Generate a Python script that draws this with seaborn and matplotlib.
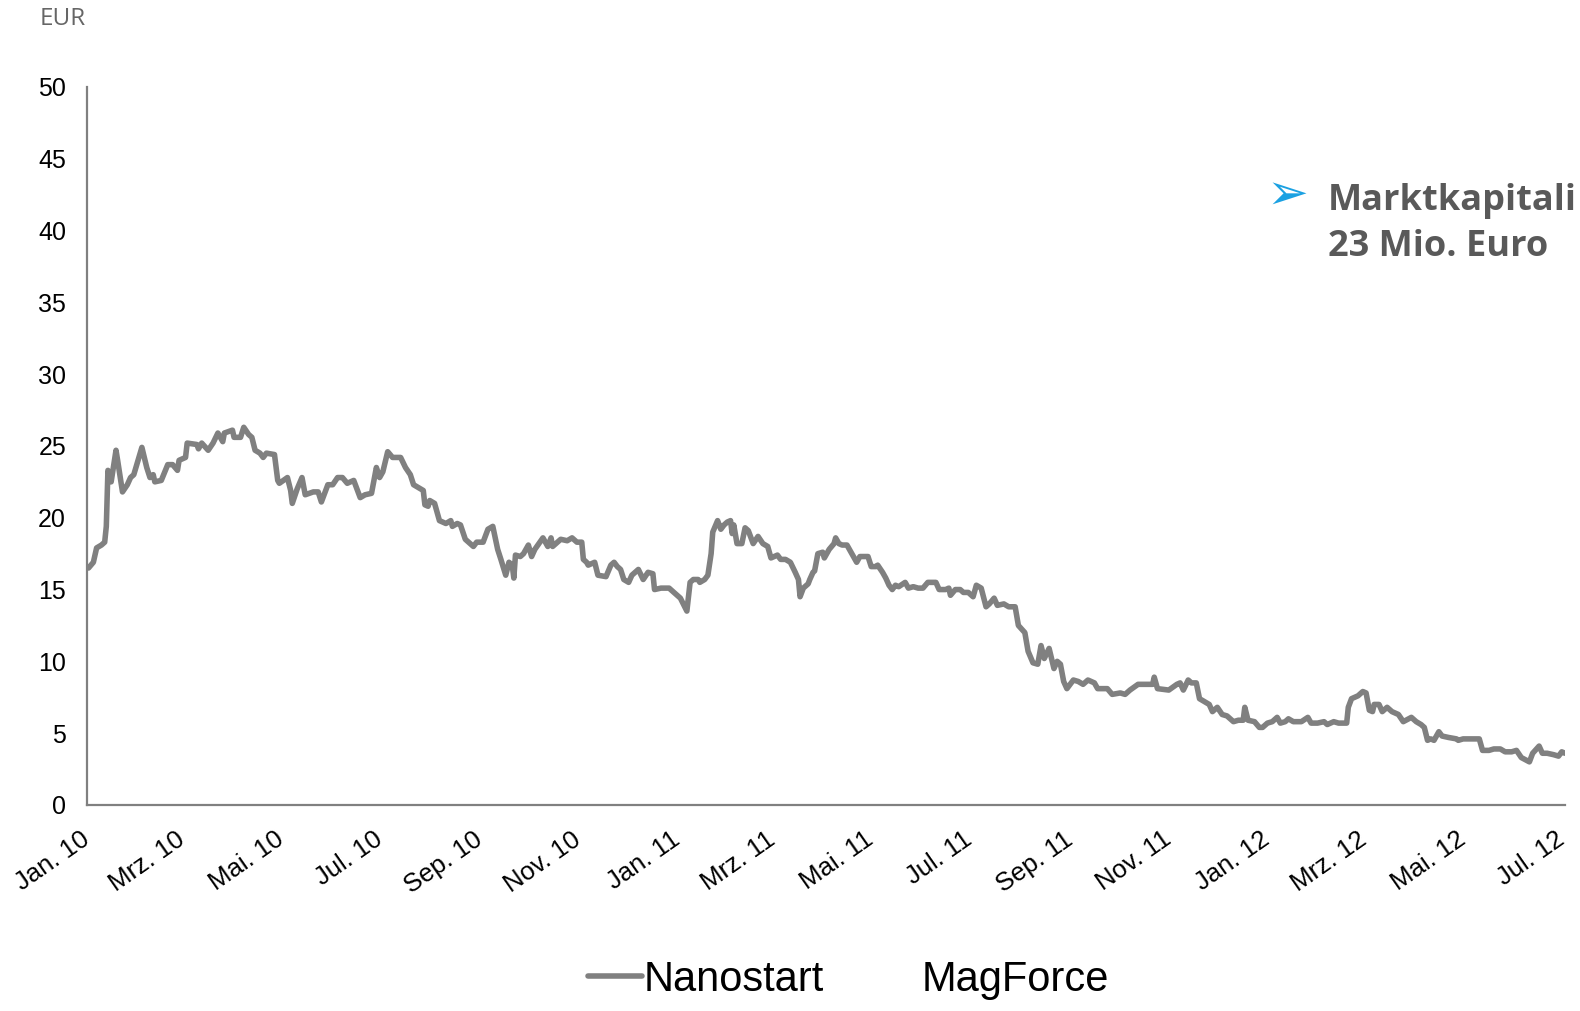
import pandas as pd
import numpy as np
import matplotlib
matplotlib.use("Agg")
import matplotlib.pyplot as plt
import seaborn as sns

# Nanostart share price (EUR)
# days since 1 Jan 2010 and closing price
nanostart_days = [
    1, 4, 6, 9, 11, 12, 13, 15, 18, 19, 22, 25, 27, 29, 34, 37, 39, 41, 42, 46,
    50, 53, 56, 57, 61, 62, 68, 69, 71, 75, 78, 81, 84, 85, 90, 91, 95, 97, 100, 102,
    104, 107, 109, 111, 116, 118, 119, 124, 126, 127, 130, 133, 135, 140, 143, 145, 149, 152, 155, 158,
    161, 165, 169, 172, 176, 179, 181, 183, 186, 189, 194, 197, 200, 202, 205, 208, 209, 211, 212, 215,
    218, 222, 225, 226, 229, 231, 234, 237, 239, 241, 245, 248, 251, 254, 256, 259, 261, 263, 264, 265,
    268, 270, 273, 275, 277, 282, 285, 287, 288, 293, 297, 300, 303, 306, 307, 309, 310, 314, 316, 321,
    324, 326, 328, 330, 332, 335, 337, 341, 344, 347, 350, 351, 355, 360, 363, 367, 371, 373, 375, 378,
    379, 382, 384, 386, 387, 390, 392, 394, 396, 398, 399, 400, 402, 405, 407, 409, 412, 415, 418, 421,
    423, 427, 429, 432, 435, 438, 440, 441, 443, 446, 447, 449, 450, 452, 455, 456, 459, 462, 463, 465,
    467, 470, 473, 476, 478, 483, 485, 488, 489, 492, 494, 496, 498, 500, 502, 506, 508, 511, 514, 517,
    520, 523, 525, 527, 531, 533, 534, 537, 540, 542, 545, 548, 550, 553, 556, 558, 561, 563, 567, 570,
    574, 576, 580, 582, 585, 588, 590, 592, 595, 598, 600, 602, 604, 606, 610, 613, 616, 619, 623, 625,
    631, 634, 639, 642, 645, 650, 656, 659, 660, 662, 669, 674, 676, 678, 681, 683, 686, 688, 691, 694,
    696, 699, 702, 705, 709, 712, 715, 716, 718, 722, 725, 727, 730, 733, 736, 738, 741, 743, 746, 751,
    755, 757, 761, 765, 767, 771, 774, 779, 780, 782, 786, 789, 791, 793, 795, 796, 799, 801, 804, 807,
    811, 814, 819, 822, 825, 827, 829, 831, 833, 836, 838, 842, 847, 848, 851, 856, 861, 863, 867, 870,
    874, 877, 881, 884, 887, 892, 894, 898, 900, 903, 907, 910, 912, 914,
]
nanostart_eur = [
    16.5, 16.9, 17.9, 18.1, 18.3, 19.4, 23.3, 22.5, 24.7, 24.0, 21.8, 22.3, 22.8, 23.0, 24.9, 23.5, 22.8, 23.0, 22.5, 22.6,
    23.7, 23.7, 23.3, 24.0, 24.2, 25.2, 25.1, 24.8, 25.2, 24.7, 25.2, 25.9, 25.3, 25.9, 26.1, 25.6, 25.6, 26.3, 25.8, 25.6,
    24.7, 24.5, 24.2, 24.5, 24.4, 22.6, 22.4, 22.8, 21.9, 21.0, 22.0, 22.8, 21.6, 21.8, 21.8, 21.1, 22.3, 22.3, 22.8, 22.8,
    22.4, 22.6, 21.4, 21.6, 21.7, 23.5, 22.8, 23.2, 24.6, 24.2, 24.2, 23.5, 23.0, 22.3, 22.1, 21.9, 20.9, 20.8, 21.2, 21.0,
    19.8, 19.6, 19.8, 19.4, 19.6, 19.5, 18.5, 18.2, 18.0, 18.3, 18.3, 19.2, 19.4, 17.8, 17.1, 16.0, 16.9, 16.7, 15.8, 17.4,
    17.3, 17.5, 18.1, 17.3, 17.8, 18.6, 18.0, 18.6, 18.0, 18.5, 18.4, 18.6, 18.3, 18.3, 17.1, 16.9, 16.7, 16.9, 16.0, 15.9,
    16.7, 16.9, 16.6, 16.4, 15.7, 15.5, 16.0, 16.4, 15.7, 16.2, 16.1, 15.0, 15.1, 15.1, 14.8, 14.4, 13.5, 15.5, 15.7, 15.7,
    15.5, 15.7, 16.0, 17.5, 19.0, 19.8, 19.2, 19.5, 19.7, 19.8, 18.9, 19.5, 18.2, 18.2, 19.3, 19.1, 18.2, 18.7, 18.2, 18.0,
    17.2, 17.4, 17.1, 17.1, 16.9, 16.2, 15.7, 14.5, 15.1, 15.4, 15.7, 16.2, 16.3, 17.5, 17.6, 17.2, 17.8, 18.2, 18.6, 18.2,
    18.1, 18.1, 17.5, 16.9, 17.3, 17.3, 16.6, 16.6, 16.7, 16.2, 15.8, 15.3, 15.0, 15.3, 15.2, 15.5, 15.1, 15.2, 15.1, 15.1,
    15.5, 15.5, 15.5, 15.0, 15.0, 15.1, 14.6, 15.0, 15.0, 14.8, 14.8, 14.5, 15.3, 15.1, 13.8, 14.0, 14.4, 13.9, 14.0, 13.8,
    13.8, 12.5, 12.0, 10.7, 9.9, 9.8, 11.1, 10.2, 10.9, 9.5, 10.0, 9.8, 8.6, 8.1, 8.7, 8.6, 8.4, 8.7, 8.5, 8.1,
    8.1, 7.7, 7.8, 7.7, 8.0, 8.4, 8.4, 8.4, 8.9, 8.1, 8.0, 8.4, 8.5, 8.0, 8.7, 8.5, 8.5, 7.4, 7.2, 7.0,
    6.5, 6.8, 6.3, 6.2, 5.8, 5.9, 5.9, 6.8, 5.9, 5.8, 5.4, 5.4, 5.7, 5.8, 6.1, 5.7, 5.8, 6.0, 5.8, 5.8,
    6.1, 5.7, 5.7, 5.8, 5.6, 5.8, 5.7, 5.7, 6.8, 7.4, 7.6, 7.9, 7.8, 6.6, 6.5, 7.0, 7.0, 6.5, 6.8, 6.5,
    6.3, 5.8, 6.1, 5.8, 5.6, 5.4, 4.5, 4.6, 4.5, 5.1, 4.8, 4.7, 4.6, 4.5, 4.6, 4.6, 4.6, 3.8, 3.8, 3.9,
    3.9, 3.7, 3.7, 3.8, 3.3, 3.0, 3.6, 4.1, 3.6, 3.6, 3.5, 3.4, 3.7, 3.6,
]
# MagForce series is listed in the legend but has no visible data
magforce_days = []
magforce_eur = []

tick_dates = ["2010-01-01", "2010-03-01", "2010-05-01", "2010-07-01", "2010-09-01",
              "2010-11-01", "2011-01-01", "2011-03-01", "2011-05-01", "2011-07-01",
              "2011-09-01", "2011-11-01", "2012-01-01", "2012-03-01", "2012-05-01",
              "2012-07-01"]
tick_labels = ["Jan. 10", "Mrz. 10", "Mai. 10", "Jul. 10", "Sep. 10", "Nov. 10",
               "Jan. 11", "Mrz. 11", "Mai. 11", "Jul. 11", "Sep. 11", "Nov. 11",
               "Jan. 12", "Mrz. 12", "Mai. 12", "Jul. 12"]
y_ticks = [0, 5, 10, 15, 20, 25, 30, 35, 40, 45, 50]

start = pd.Timestamp("2010-01-01")
df = pd.DataFrame({
    "Datum": start + pd.to_timedelta(nanostart_days, unit="D"),
    "Kurs": nanostart_eur,
})

sns.set_style("white")
plt.rcParams["font.family"] = ["Liberation Sans", "DejaVu Sans"]

fig = plt.figure(figsize=(15.8, 10.11), dpi=100)
ax = fig.add_axes([0.055, 0.2038, 0.9355, 0.7102])

line_grey = "#808080"
sns.lineplot(data=df, x="Datum", y="Kurs", ax=ax, color=line_grey,
             linewidth=4.0, label="Nanostart", legend=False)
ax.plot(start + pd.to_timedelta(magforce_days, unit="D"), magforce_eur,
        color="none", linewidth=4.0, label="MagForce")

ax.set_xlim(pd.Timestamp("2010-01-01"), pd.Timestamp("2012-07-03"))
ax.set_ylim(0, 50)
ax.set_yticks(y_ticks)
ax.set_yticklabels([str(v) for v in y_ticks], fontsize=18)
ax.set_xticks(pd.to_datetime(tick_dates))
ax.set_xticklabels(tick_labels, fontsize=18.5, rotation=35, ha="right",
                   va="center", rotation_mode="anchor")
ax.set_xlabel("")
ax.set_ylabel("")

for side in ["top", "right"]:
    ax.spines[side].set_visible(False)
for side in ["left", "bottom"]:
    ax.spines[side].set_color(line_grey)
    ax.spines[side].set_linewidth(1.6)
ax.tick_params(axis="both", direction="out", color=line_grey, width=1.6,
               length=7, labelcolor="black")
ax.tick_params(axis="x", pad=16)
ax.tick_params(axis="y", pad=8)

# unit label and annotation
fig.text(0.025, 0.993, "EUR", fontsize=17.5, color="#666666",
         family=["Open Sans", "DejaVu Sans"], va="top", ha="left")
fig.text(0.8145, 0.807, "\u27a2", fontsize=36, color="#1ba1e2",
         family=["DejaVu Sans"], va="center", ha="center")
fig.text(0.8405, 0.819, "Marktkapitali\n23 Mio. Euro", fontsize=26,
         fontweight="bold", color="#595959", family=["Open Sans", "DejaVu Sans"],
         va="top", ha="left", linespacing=1.38)

handles, labels = ax.get_legend_handles_labels()
leg = fig.legend(handles, labels, loc="center", bbox_to_anchor=(0.537, 0.031),
                 ncol=2, frameon=False, fontsize=30, handlelength=1.3,
                 handletextpad=0.05, columnspacing=1.0)
for t in leg.get_texts():
    t.set_color("black")

fig.savefig("out.png", dpi=100)
